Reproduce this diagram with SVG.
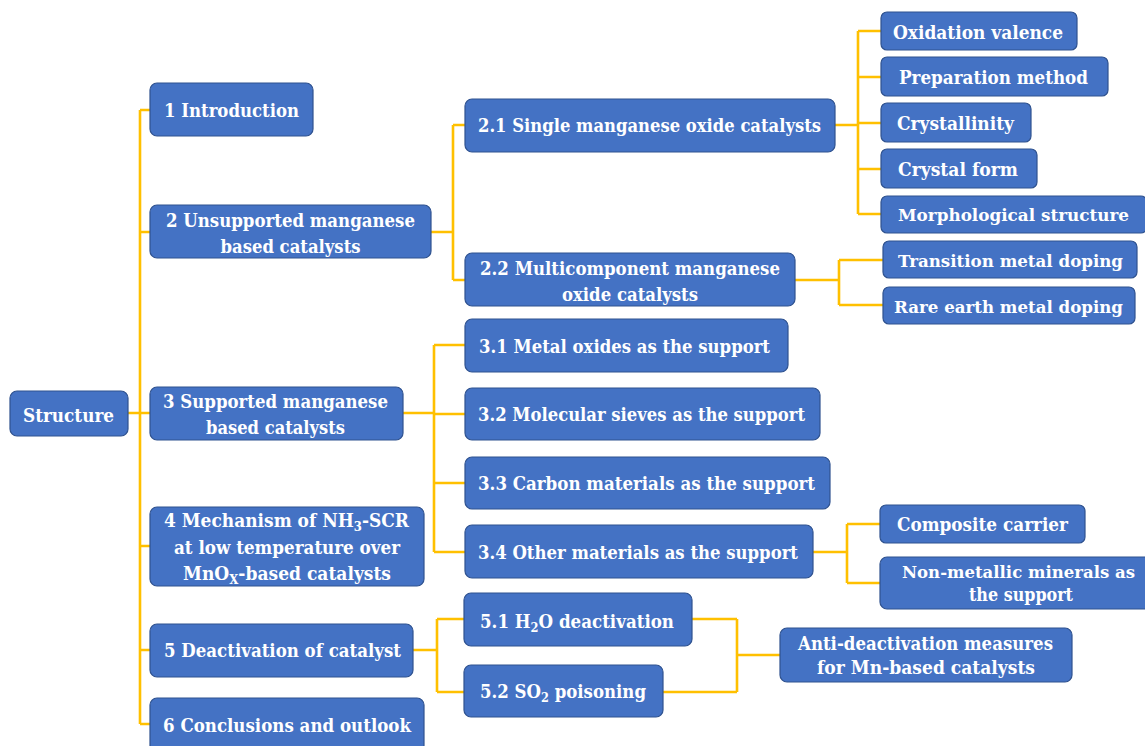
<svg xmlns="http://www.w3.org/2000/svg" width="1145" height="746" viewBox="0 0 1145 746">
<style>
.b{fill:#4472C4;stroke:#2F528F;stroke-width:1.2}
text{font-family:'DejaVu Serif','Liberation Serif',serif;font-weight:700;font-size:19px;fill:#ffffff;text-anchor:middle}
.s{font-size:13px}
.r{font-size:17px}
.c{fill:none;stroke:#FFC000;stroke-width:2.6}
</style>
<rect width="1145" height="746" fill="#ffffff"/>
<g id="connectors" class="c">
<path d="M128,413 H150 M140,110 V724 M140,110 H150 M140,232 H150 M140,546 H150 M140,650 H150 M140,724 H150"/>
<path d="M431,232 H453 M453,125 V280 M453,125 H465 M453,280 H465"/>
<path d="M835,125 H858 M858,31 V214 M858,31 H881 M858,77 H881 M858,123 H881 M858,169 H881 M858,214 H881"/>
<path d="M795,280 H839 M839,260 V305 M839,260 H883 M839,305 H883"/>
<path d="M403,413 H434 M434,345 V552 M434,345 H465 M434,414 H465 M434,483 H465 M434,552 H465"/>
<path d="M813,552 H847 M847,524 V583 M847,524 H880 M847,583 H880"/>
<path d="M413,650 H437 M437,619 V692 M437,619 H464 M437,692 H464"/>
<path d="M692,619 H737 M663,692 H737 M737,619 V692 M737,655 H780"/>
</g>
<g id="structure"><rect class="b" x="10" y="391" width="118" height="45" rx="7"/><text x="68.5" y="422" textLength="91" lengthAdjust="spacingAndGlyphs">Structure</text></g>
<g id="n1"><rect class="b" x="150" y="83" width="163" height="53" rx="7"/><text x="231.5" y="117" textLength="135" lengthAdjust="spacingAndGlyphs">1 Introduction</text></g>
<g id="n2"><rect class="b" x="150" y="205" width="281" height="53" rx="7"/><text x="290.5" y="227" textLength="249" lengthAdjust="spacingAndGlyphs">2 Unsupported manganese</text><text x="290.5" y="253" textLength="140" lengthAdjust="spacingAndGlyphs">based catalysts</text></g>
<g id="n3"><rect class="b" x="150" y="387" width="253" height="53" rx="7"/><text x="275.5" y="408" textLength="225" lengthAdjust="spacingAndGlyphs">3 Supported manganese</text><text x="275.5" y="434" textLength="139" lengthAdjust="spacingAndGlyphs">based catalysts</text></g>
<g id="n4"><rect class="b" x="150" y="507" width="274" height="79" rx="7"/><text x="286.5" y="527" textLength="245" lengthAdjust="spacingAndGlyphs">4 Mechanism of NH<tspan class="s" dy="4">3</tspan><tspan dy="-4">-SCR</tspan></text><text x="287" y="554" textLength="226" lengthAdjust="spacingAndGlyphs">at low temperature over</text><text x="287" y="580" textLength="208" lengthAdjust="spacingAndGlyphs">MnO<tspan class="s" dy="4">X</tspan><tspan dy="-4">-based catalysts</tspan></text></g>
<g id="n5"><rect class="b" x="150" y="624" width="263" height="53" rx="7"/><text x="282.5" y="657" textLength="237" lengthAdjust="spacingAndGlyphs">5 Deactivation of catalyst</text></g>
<g id="n6"><rect class="b" x="150" y="698" width="274" height="54" rx="7"/><text x="287" y="732" textLength="248" lengthAdjust="spacingAndGlyphs">6 Conclusions and outlook</text></g>
<g id="n21"><rect class="b" x="465" y="99" width="370" height="53" rx="7"/><text x="649.5" y="132" textLength="343" lengthAdjust="spacingAndGlyphs">2.1 Single manganese oxide catalysts</text></g>
<g id="n22"><rect class="b" x="465" y="253" width="330" height="53" rx="7"/><text x="630" y="275" textLength="300" lengthAdjust="spacingAndGlyphs">2.2 Multicomponent manganese</text><text x="630" y="301" textLength="136" lengthAdjust="spacingAndGlyphs">oxide catalysts</text></g>
<g id="n211"><rect class="b" x="881" y="12" width="196" height="38" rx="6"/><text x="978" y="39" textLength="170" lengthAdjust="spacingAndGlyphs">Oxidation valence</text></g>
<g id="n212"><rect class="b" x="881" y="57" width="227" height="39" rx="6"/><text x="993.5" y="84" textLength="189" lengthAdjust="spacingAndGlyphs">Preparation method</text></g>
<g id="n213"><rect class="b" x="881" y="103" width="150" height="39" rx="6"/><text x="955.5" y="130" textLength="117" lengthAdjust="spacingAndGlyphs">Crystallinity</text></g>
<g id="n214"><rect class="b" x="881" y="149" width="156" height="39" rx="6"/><text x="958" y="176" textLength="120" lengthAdjust="spacingAndGlyphs">Crystal form</text></g>
<g id="n215"><rect class="b" x="881" y="196" width="266" height="37" rx="6"/><text class="r" x="1013.5" y="221" textLength="231" lengthAdjust="spacingAndGlyphs">Morphological structure</text></g>
<g id="n221"><rect class="b" x="883" y="241" width="254" height="37" rx="6"/><text class="r" x="1010.5" y="267" textLength="225" lengthAdjust="spacingAndGlyphs">Transition metal doping</text></g>
<g id="n222"><rect class="b" x="883" y="287" width="252" height="37" rx="6"/><text class="r" x="1008.5" y="313" textLength="229" lengthAdjust="spacingAndGlyphs">Rare earth metal doping</text></g>
<g id="n31"><rect class="b" x="465" y="319" width="323" height="53" rx="7"/><text x="624.5" y="353" textLength="291" lengthAdjust="spacingAndGlyphs">3.1 Metal oxides as the support</text></g>
<g id="n32"><rect class="b" x="465" y="388" width="355" height="52" rx="7"/><text x="641.5" y="421" textLength="327" lengthAdjust="spacingAndGlyphs">3.2 Molecular sieves as the support</text></g>
<g id="n33"><rect class="b" x="465" y="457" width="365" height="52" rx="7"/><text x="646.5" y="490" textLength="337" lengthAdjust="spacingAndGlyphs">3.3 Carbon materials as the support</text></g>
<g id="n34"><rect class="b" x="465" y="525" width="348" height="53" rx="7"/><text x="638" y="559" textLength="320" lengthAdjust="spacingAndGlyphs">3.4 Other materials as the support</text></g>
<g id="n341"><rect class="b" x="880" y="505" width="205" height="38" rx="6"/><text x="982.5" y="531" textLength="171" lengthAdjust="spacingAndGlyphs">Composite carrier</text></g>
<g id="n342"><rect class="b" x="880" y="557" width="276" height="52" rx="7"/><text class="r" x="1018.5" y="578" textLength="233" lengthAdjust="spacingAndGlyphs">Non-metallic minerals as</text><text x="1021" y="601" textLength="104" lengthAdjust="spacingAndGlyphs">the support</text></g>
<g id="n51"><rect class="b" x="464" y="593" width="228" height="53" rx="7"/><text x="577" y="628" textLength="194" lengthAdjust="spacingAndGlyphs">5.1 H<tspan class="s" dy="4">2</tspan><tspan dy="-4">O deactivation</tspan></text></g>
<g id="n52"><rect class="b" x="464" y="665" width="199" height="52" rx="7"/><text x="563" y="698" textLength="166" lengthAdjust="spacingAndGlyphs">5.2 SO<tspan class="s" dy="4">2</tspan><tspan dy="-4"> poisoning</tspan></text></g>
<g id="n53"><rect class="b" x="780" y="628" width="292" height="54" rx="7"/><text x="925.5" y="650" textLength="255" lengthAdjust="spacingAndGlyphs">Anti-deactivation measures</text><text x="926" y="674" textLength="218" lengthAdjust="spacingAndGlyphs">for Mn-based catalysts</text></g>
</svg>
